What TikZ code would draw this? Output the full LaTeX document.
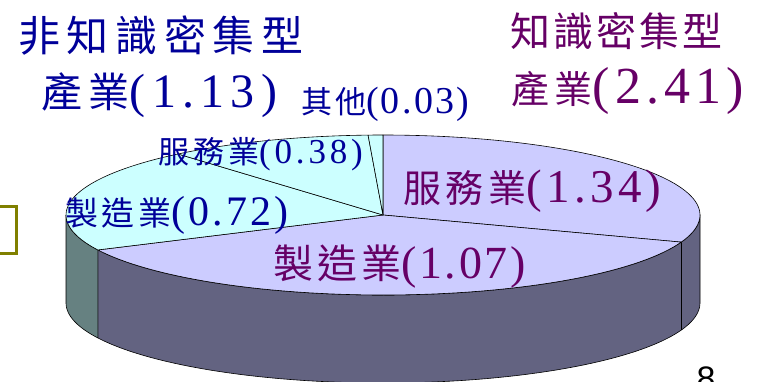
\documentclass[tikz,border=0pt]{standalone}
\usepackage{fontspec}
\setmainfont{Liberation Serif}
\newfontfamily\cjkfont{Noto Sans CJK TC}
\newfontfamily\latfont{Liberation Serif}
\newfontfamily\pagefont{Liberation Sans}
\definecolor{lavtop}{HTML}{CCCCFF}
\definecolor{cyantop}{HTML}{CCFFFF}
\definecolor{lavside}{HTML}{636381}
\definecolor{cyanside}{HTML}{668181}
\definecolor{bluetxt}{HTML}{000099}
\definecolor{purptxt}{HTML}{660066}
\definecolor{olivebox}{HTML}{808000}
% #1 cjk size, #2 cjk letterspace, #3 latin size, #4 latin letterspace, #5 cjk text, #6 latin text
\newcommand\mixlbl[6]{{\fontsize{#1pt}{#1pt}\cjkfont\addfontfeature{LetterSpace=#2}#5}{\fontsize{#3pt}{#3pt}\latfont\addfontfeature{LetterSpace=#4}#6}}
\begin{document}
\begin{tikzpicture}[x=1pt,y=-1pt,
  edge/.style={draw=black,line width=0.6pt,line join=round},
  lbl/.style={anchor=base west,inner sep=0pt,outer sep=0pt},
  bluelbl/.style={lbl,text=bluetxt},
  purplbl/.style={lbl,text=purptxt}]
\useasboundingbox (0,0) rectangle (761,381);
\def\cx{383}\def\cy{215}\def\ra{317}\def\rb{80}\def\dep{88}
% side faces
\path[edge,fill=lavside] plot[domain=205.9:360,samples=90] ({\cx+\ra*cos(\x)},{\cy-\rb*sin(\x)})
  -- plot[domain=360:205.9,samples=90] ({\cx+\ra*cos(\x)},{\cy+\dep-\rb*sin(\x)}) -- cycle;
\path[edge,fill=cyanside] plot[domain=180:205.9,samples=20] ({\cx+\ra*cos(\x)},{\cy-\rb*sin(\x)})
  -- plot[domain=205.9:180,samples=20] ({\cx+\ra*cos(\x)},{\cy+\dep-\rb*sin(\x)}) -- cycle;
\draw[edge] ({\cx+\ra*cos(340.2)},{\cy-\rb*sin(340.2)}) -- ++(0,\dep);
% top faces
\path[edge,fill=lavtop] (\cx,\cy) -- plot[domain=90:-19.8,samples=60] ({\cx+\ra*cos(\x)},{\cy-\rb*sin(\x)}) -- cycle;
\path[edge,fill=lavtop] (\cx,\cy) -- plot[domain=-19.8:-154.1,samples=70] ({\cx+\ra*cos(\x)},{\cy-\rb*sin(\x)}) -- cycle;
\path[edge,fill=cyantop] (\cx,\cy) -- plot[domain=205.9:130.3,samples=40] ({\cx+\ra*cos(\x)},{\cy-\rb*sin(\x)}) -- cycle;
\path[edge,fill=cyantop] (\cx,\cy) -- plot[domain=130.3:92.7,samples=25] ({\cx+\ra*cos(\x)},{\cy-\rb*sin(\x)}) -- cycle;
\path[edge,fill=cyantop] (\cx,\cy) -- plot[domain=92.7:90,samples=4] ({\cx+\ra*cos(\x)},{\cy-\rb*sin(\x)}) -- cycle;
% olive box at left
\draw[olivebox,line width=3pt] (-10,206) rectangle (16,253);
% labels
\node[bluelbl] (t1) at (18,51) {\mixlbl{42}{16}{48}{0}{非知識密集型}{}};
\node[bluelbl] (t2) at (41,107) {\mixlbl{41}{17}{48}{13}{產業}{(1.13)}};
\node[bluelbl] (t3) at (301,113) {\mixlbl{31}{10}{38}{6}{其他}{(0.03)}};
\node[purplbl] (t4) at (510,46) {\mixlbl{40}{8}{48}{0}{知識密集型}{}};
\node[purplbl] (t5) at (511,103) {\mixlbl{38}{15}{52}{10}{產業}{(2.41)}};
\node[bluelbl] (t6) at (158,163) {\mixlbl{31}{13}{35}{11}{服務業}{(0.38)}};
\node[bluelbl] (t7) at (65,225) {\mixlbl{33}{12}{42}{7}{製造業}{(0.72)}};
\node[purplbl] (t8) at (403,202) {\mixlbl{38}{13}{47}{9}{服務業}{(1.34)}};
\node[purplbl] (t9) at (273,278) {\mixlbl{40}{10}{46}{6}{製造業}{(1.07)}};
\node[anchor=north,inner sep=0pt,font=\pagefont\fontsize{34pt}{34pt}\selectfont] (pg) at (706,367) {8};
\end{tikzpicture}
\end{document}
